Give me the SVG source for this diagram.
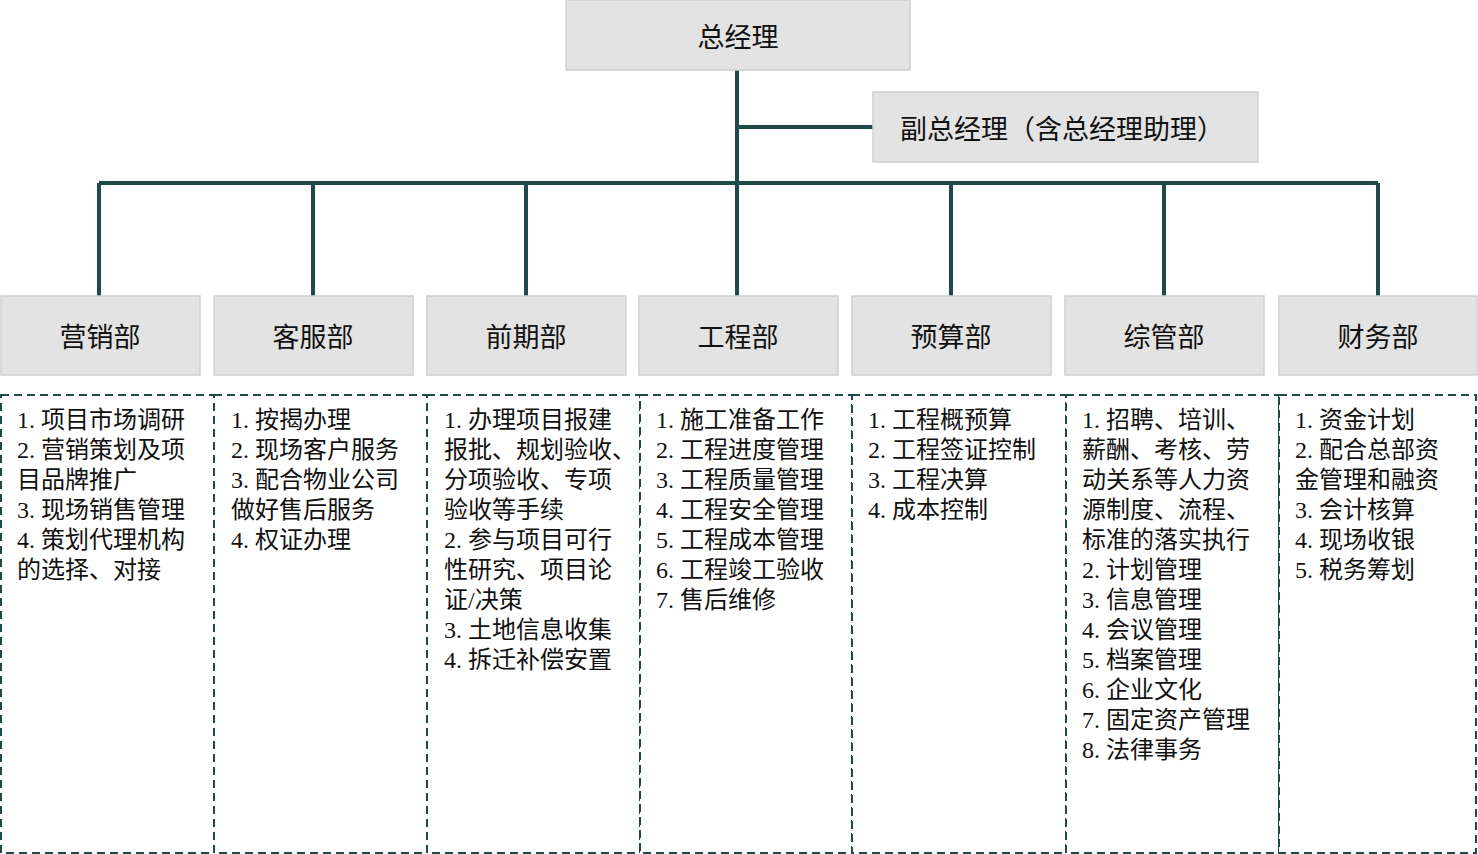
<svg xmlns="http://www.w3.org/2000/svg" width="1478" height="854" viewBox="0 0 1478 854">
<style>
.b{fill:#e3e3e3;stroke:#d0d0d0;stroke-width:1.5}
.d{fill:#fff;stroke:#1f4a4a;stroke-width:2;stroke-dasharray:8,5}
.t{font-family:"Liberation Serif","Noto Sans CJK SC",serif;font-size:27px;fill:#111;text-anchor:middle}
.l{font-family:"Liberation Serif","Noto Sans CJK SC",serif;font-size:24px;fill:#111}
.c{stroke:#1f4a4a;stroke-width:4;fill:none}
</style>
<rect width="1478" height="854" fill="#fff"/>
<g id="connectors">
<path class="c" d="M737 70V296M737 127H873M99 183H1378M99 183V296M313 183V296M526 183V296M951 183V296M1164 183V296M1378 183V296"/>
</g>
<g id="gm"><rect class="b" x="566" y="0" width="344" height="70"/><text class="t" x="738" y="47">总经理</text></g>
<g id="vgm"><rect class="b" x="873" y="92" width="385" height="70"/><text class="t" x="1062" y="139">副总经理（含总经理助理）</text></g>
<g id="dept1"><rect class="b" x="1" y="296" width="199" height="79"/><text class="t" x="100" y="347">营销部</text></g>
<g id="dept2"><rect class="b" x="214" y="296" width="199" height="79"/><text class="t" x="313" y="347">客服部</text></g>
<g id="dept3"><rect class="b" x="427" y="296" width="199" height="79"/><text class="t" x="526" y="347">前期部</text></g>
<g id="dept4"><rect class="b" x="639" y="296" width="199" height="79"/><text class="t" x="738" y="347">工程部</text></g>
<g id="dept5"><rect class="b" x="852" y="296" width="199" height="79"/><text class="t" x="951" y="347">预算部</text></g>
<g id="dept6"><rect class="b" x="1065" y="296" width="199" height="79"/><text class="t" x="1164" y="347">综管部</text></g>
<g id="dept7"><rect class="b" x="1279" y="296" width="198" height="79"/><text class="t" x="1378" y="347">财务部</text></g>
<g id="duties">
<rect class="d" x="1" y="395" width="213" height="458"/>
<rect class="d" x="214" y="395" width="213" height="458"/>
<rect class="d" x="427" y="395" width="213" height="458"/>
<rect class="d" x="640" y="395" width="212" height="458"/>
<rect class="d" x="852" y="395" width="214" height="458"/>
<rect class="d" x="1066" y="395" width="213" height="458"/>
<rect class="d" x="1279" y="395" width="197" height="458"/>
<text class="l" x="17" y="428"><tspan x="17">1. 项目市场调研</tspan><tspan x="17" dy="30">2. 营销策划及项</tspan><tspan x="17" dy="30">目品牌推广</tspan><tspan x="17" dy="30">3. 现场销售管理</tspan><tspan x="17" dy="30">4. 策划代理机构</tspan><tspan x="17" dy="30">的选择、对接</tspan></text>
<text class="l" x="231" y="428"><tspan x="231">1. 按揭办理</tspan><tspan x="231" dy="30">2. 现场客户服务</tspan><tspan x="231" dy="30">3. 配合物业公司</tspan><tspan x="231" dy="30">做好售后服务</tspan><tspan x="231" dy="30">4. 权证办理</tspan></text>
<text class="l" x="444" y="428"><tspan x="444">1. 办理项目报建</tspan><tspan x="444" dy="30">报批、规划验收、</tspan><tspan x="444" dy="30">分项验收、专项</tspan><tspan x="444" dy="30">验收等手续</tspan><tspan x="444" dy="30">2. 参与项目可行</tspan><tspan x="444" dy="30">性研究、项目论</tspan><tspan x="444" dy="30">证/决策</tspan><tspan x="444" dy="30">3. 土地信息收集</tspan><tspan x="444" dy="30">4. 拆迁补偿安置</tspan></text>
<text class="l" x="656" y="428"><tspan x="656">1. 施工准备工作</tspan><tspan x="656" dy="30">2. 工程进度管理</tspan><tspan x="656" dy="30">3. 工程质量管理</tspan><tspan x="656" dy="30">4. 工程安全管理</tspan><tspan x="656" dy="30">5. 工程成本管理</tspan><tspan x="656" dy="30">6. 工程竣工验收</tspan><tspan x="656" dy="30">7. 售后维修</tspan></text>
<text class="l" x="868" y="428"><tspan x="868">1. 工程概预算</tspan><tspan x="868" dy="30">2. 工程签证控制</tspan><tspan x="868" dy="30">3. 工程决算</tspan><tspan x="868" dy="30">4. 成本控制</tspan></text>
<text class="l" x="1082" y="428"><tspan x="1082">1. 招聘、培训、</tspan><tspan x="1082" dy="30">薪酬、考核、劳</tspan><tspan x="1082" dy="30">动关系等人力资</tspan><tspan x="1082" dy="30">源制度、流程、</tspan><tspan x="1082" dy="30">标准的落实执行</tspan><tspan x="1082" dy="30">2. 计划管理</tspan><tspan x="1082" dy="30">3. 信息管理</tspan><tspan x="1082" dy="30">4. 会议管理</tspan><tspan x="1082" dy="30">5. 档案管理</tspan><tspan x="1082" dy="30">6. 企业文化</tspan><tspan x="1082" dy="30">7. 固定资产管理</tspan><tspan x="1082" dy="30">8. 法律事务</tspan></text>
<text class="l" x="1295" y="428"><tspan x="1295">1. 资金计划</tspan><tspan x="1295" dy="30">2. 配合总部资</tspan><tspan x="1295" dy="30">金管理和融资</tspan><tspan x="1295" dy="30">3. 会计核算</tspan><tspan x="1295" dy="30">4. 现场收银</tspan><tspan x="1295" dy="30">5. 税务筹划</tspan></text>
</g>
</svg>
